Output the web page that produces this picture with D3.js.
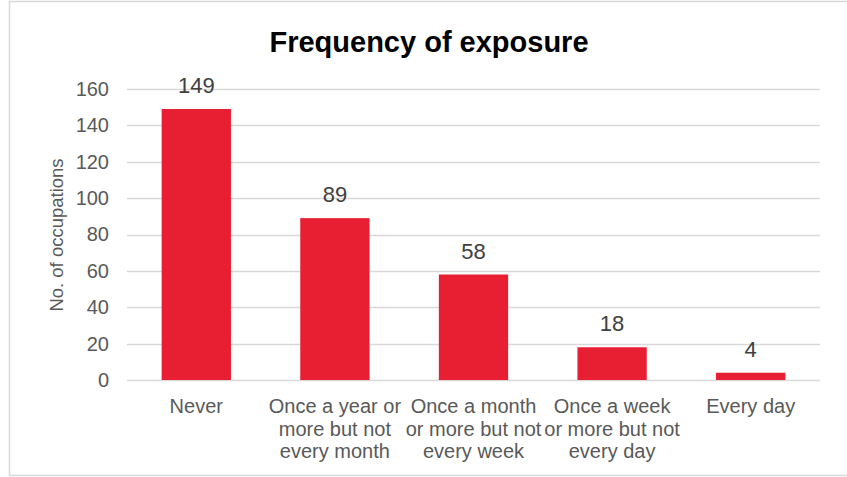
<!DOCTYPE html>
<html>
<head>
<meta charset="utf-8">
<script src="https://cdn.jsdelivr.net/npm/d3@7"></script>
<style>
  body { margin: 0; background: #fff; }
  text { font-family: "Liberation Sans", Arial, sans-serif; }
</style>
</head>
<body>
<script>
// data
var categories = [
  ["Never"],
  ["Once a year or", "more but not", "every month"],
  ["Once a month", "or more but not", "every week"],
  ["Once a week", "or more but not", "every day"],
  ["Every day"]
];
var values = [149, 89, 58, 18, 4];
var yTicks = [0, 20, 40, 60, 80, 100, 120, 140, 160];

var width = 847, height = 477;
var plot = { left: 127, right: 820, top: 89, bottom: 380 };

var svg = d3.select("body").append("svg")
  .attr("width", width)
  .attr("height", height);

// chart border
svg.append("rect")
  .attr("x", 9.5).attr("y", 1.5)
  .attr("width", 850).attr("height", 474)
  .attr("fill", "#fff")
  .attr("stroke", "#d9d9d9")
  .attr("stroke-width", 1.5);

var x = d3.scaleBand()
  .domain(d3.range(values.length))
  .range([plot.left, plot.right])
  .paddingInner(0.5)
  .paddingOuter(0.25);

var y = d3.scaleLinear()
  .domain([0, 160])
  .range([plot.bottom, plot.top]);

// gridlines
svg.append("g")
  .selectAll("line")
  .data(yTicks)
  .enter().append("line")
  .attr("x1", plot.left)
  .attr("x2", plot.right)
  .attr("y1", function (d) { return Math.round(y(d)) + 0.5; })
  .attr("y2", function (d) { return Math.round(y(d)) + 0.5; })
  .attr("stroke", "#d9d9d9")
  .attr("stroke-width", 1.5);

// y axis labels
var yAxis = d3.axisLeft(y).tickValues(yTicks).tickSize(0).tickPadding(18);
var ya = svg.append("g")
  .attr("transform", "translate(" + plot.left + ",0)")
  .call(yAxis);
ya.select(".domain").remove();
ya.selectAll("text")
  .attr("font-family", "Liberation Sans, Arial, sans-serif")
  .attr("font-size", 20)
  .attr("fill", "#595959");

// bars
svg.append("g")
  .selectAll("rect")
  .data(values)
  .enter().append("rect")
  .attr("x", function (d, i) { return x(i); })
  .attr("y", function (d) { return y(d); })
  .attr("width", x.bandwidth())
  .attr("height", function (d) { return y(0) - y(d); })
  .attr("fill", "#e81e32");

// value labels
svg.append("g")
  .selectAll("text")
  .data(values)
  .enter().append("text")
  .attr("x", function (d, i) { return x(i) + x.bandwidth() / 2; })
  .attr("y", function (d) { return y(d) - 16; })
  .attr("text-anchor", "middle")
  .attr("font-size", 22)
  .attr("fill", "#404040")
  .text(function (d) { return d; });

// category labels
var cat = svg.append("g")
  .selectAll("text")
  .data(categories)
  .enter().append("text")
  .attr("x", function (d, i) { return x(i) + x.bandwidth() / 2; })
  .attr("y", 413)
  .attr("text-anchor", "middle")
  .attr("font-size", 20)
  .attr("fill", "#595959");
cat.selectAll("tspan")
  .data(function (d) { return d; })
  .enter().append("tspan")
  .attr("x", function () { return d3.select(this.parentNode).attr("x"); })
  .attr("dy", function (d, i) { return i === 0 ? 0 : 22.5; })
  .text(function (d) { return d; });

// axis title
svg.append("text")
  .attr("transform", "translate(63,235) rotate(-90)")
  .attr("text-anchor", "middle")
  .attr("font-size", 18.5)
  .attr("fill", "#595959")
  .text("No. of occupations");

// title
svg.append("text")
  .attr("x", 429)
  .attr("y", 52)
  .attr("text-anchor", "middle")
  .attr("font-size", 29)
  .attr("font-weight", "bold")
  .attr("fill", "#000")
  .text("Frequency of exposure");
</script>
</body>
</html>
